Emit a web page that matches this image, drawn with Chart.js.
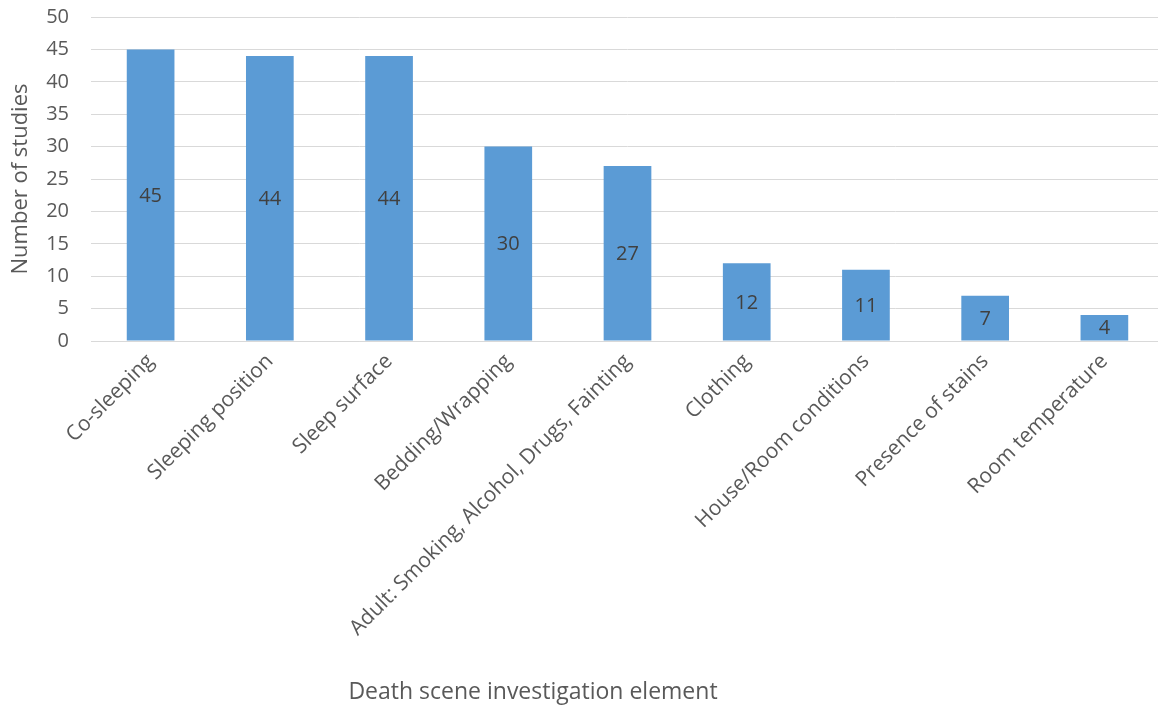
<!DOCTYPE html>
<html>
<head>
<meta charset="utf-8">
<script src="https://cdn.jsdelivr.net/npm/chart.js@4/dist/chart.umd.min.js"></script>
<style>
  html, body { margin: 0; padding: 0; background: #fff; overflow: hidden; }
  #wrap { width: 1164px; height: 709px; }
</style>
</head>
<body>
<div id="wrap"><canvas id="chart"></canvas></div>
<script>
// categories and values
const categories = [
    "Co-sleeping",
    "Sleeping position",
    "Sleep surface",
    "Bedding/Wrapping",
    "Adult: Smoking, Alcohol, Drugs, Fainting",
    "Clothing",
    "House/Room conditions",
    "Presence of stains",
    "Room temperature"
];
const studies = [45, 44, 44, 30, 27, 12, 11, 7, 4];
const yTicks = [0, 5, 10, 15, 20, 25, 30, 35, 40, 45, 50];

const textColor = "#595959";
const fontFamily = "'Open Sans', 'Liberation Sans', sans-serif";

// value labels in the middle of each bar
const barLabels = {
    id: "barLabels",
    afterDatasetsDraw(chart) {
        const ctx = chart.ctx;
        const meta = chart.getDatasetMeta(0);
        ctx.save();
        ctx.font = "20px " + fontFamily;
        ctx.fillStyle = "#404040";
        ctx.textAlign = "center";
        ctx.textBaseline = "middle";
        meta.data.forEach((bar, i) => {
            const mid = (bar.y + bar.base) / 2;
            ctx.fillText(String(studies[i]), bar.x, mid + 1);
        });
        ctx.restore();
    }
};

// x axis title, placed like the original (not centred on the plot)
const xTitle = {
    id: "xTitle",
    afterDraw(chart) {
        const ctx = chart.ctx;
        ctx.save();
        ctx.font = "23px " + fontFamily;
        ctx.fillStyle = textColor;
        ctx.textAlign = "center";
        ctx.textBaseline = "middle";
        ctx.fillText("Death scene investigation element", 533, 692);
        ctx.restore();
    }
};

new Chart(document.getElementById("chart"), {
    type: "bar",
    data: {
        labels: categories,
        datasets: [{
            label: "Number of studies",
            data: studies,
            backgroundColor: "#5B9BD5",
            borderColor: "#5B9BD5",
            borderWidth: 0,
            barPercentage: 0.4,
            categoryPercentage: 1.0
        }]
    },
    options: {
        responsive: true,
        maintainAspectRatio: false,
        animation: false,
        layout: { padding: { top: 17, right: 0, left: 0, bottom: 0 } },
        plugins: {
            legend: { display: false },
            tooltip: { enabled: false }
        },
        scales: {
            x: {
                grid: { display: false, drawTicks: false },
                border: { display: true, color: "#d9d9d9", width: 1 },
                ticks: {
                    color: textColor,
                    font: { size: 21, family: fontFamily },
                    minRotation: 45,
                    maxRotation: 45,
                    autoSkip: false,
                    padding: 8
                },
                afterFit(scale) { scale.height = 709 - 341; }
            },
            y: {
                min: 0,
                max: 50,
                afterBuildTicks(scale) {
                    scale.ticks = yTicks.map(v => ({ value: v }));
                },
                grid: { color: "#d9d9d9", lineWidth: 1, drawTicks: false },
                border: { display: false },
                ticks: {
                    color: textColor,
                    font: { size: 20, family: fontFamily },
                    padding: 22
                },
                title: {
                    display: true,
                    text: "Number of studies",
                    color: textColor,
                    font: { size: 22, family: fontFamily },
                    padding: { top: 8, bottom: 0 }
                },
                afterFit(scale) {
                    scale.width = 91;
                    scale.paddingTop = 0;
                    scale.paddingBottom = 0;
                }
            }
        }
    },
    plugins: [barLabels, xTitle]
});
</script>
</body>
</html>
